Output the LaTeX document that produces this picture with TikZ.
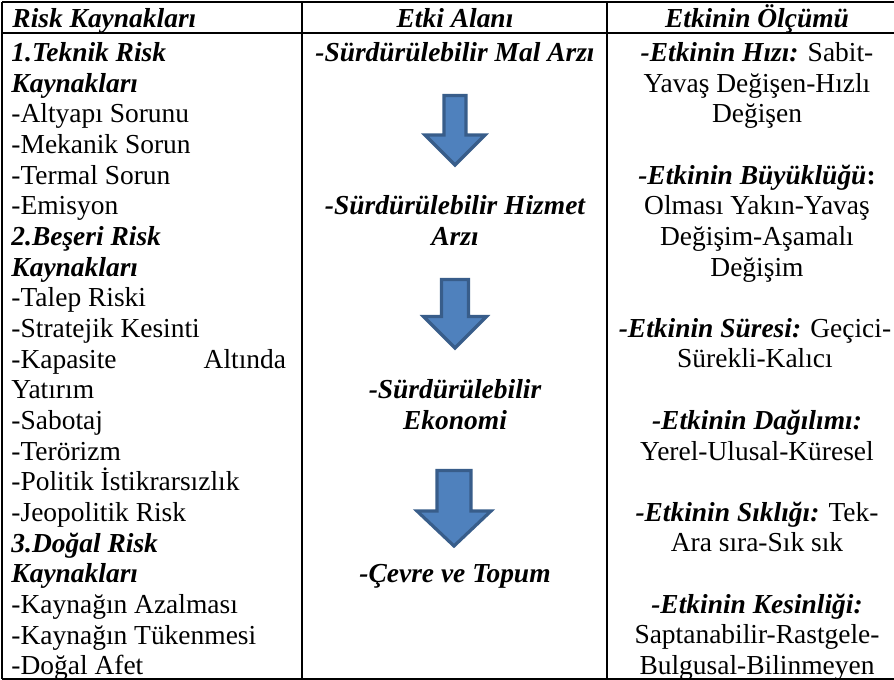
\documentclass[tikz,border=0pt]{standalone}
\usepackage{fontspec}
\setmainfont{Liberation Serif}
\usepackage{tikz}
\definecolor{arrowfill}{HTML}{4F81BD}
\definecolor{arrowline}{HTML}{385D8A}
\setlength{\parindent}{0pt}

\begin{document}
\begin{tikzpicture}[
    x=0.437pt, y=-0.437pt,
    every node/.style={inner sep=0pt, font=\fontsize{12}{13.4}\selectfont},
    head/.style={font=\fontsize{12}{13.4}\selectfont\bfseries\itshape, anchor=base},
    cell/.style={align=center, anchor=north},
    flow/.style={cell, font=\fontsize{12}{13.4}\selectfont\bfseries\itshape},
    grid/.style={line width=1.1pt},
    blockarrow/.style={fill=arrowfill, draw=arrowline, line width=1.4pt, line join=miter}
]
    \useasboundingbox (0,0) rectangle (894,680);

    % table frame
    \draw[grid] (2,2) -- (894,2);
    \draw[grid] (2,33) -- (894,33);
    \draw[grid] (2,679) -- (894,679);
    \draw[grid] (2,2) -- (2,679);
    \draw[grid] (302,2) -- (302,679);
    \draw[grid] (607,2) -- (607,679);

    % headers
    \node[head, anchor=base west] (riskhead) at (12,27) {Risk Kaynakları};
    \node[head] (etkihead) at (455,27) {Etki Alanı};
    \node[head] (olcumhead) at (757,27) {Etkinin Ölçümü};

    % risk sources
    \node[anchor=north west, text width=120pt, align=flush left] (sources) at (11,39.5) {%
        \strut{\bfseries\itshape 1.Teknik Risk}\\
        {\bfseries\itshape Kaynakları}\\
        -Altyapı Sorunu\\
        -Mekanik Sorun\\
        -Termal Sorun\\
        -Emisyon\\
        {\bfseries\itshape 2.Beşeri Risk}\\
        {\bfseries\itshape Kaynakları}\\
        -Talep Riski\\
        -Stratejik Kesinti\\
        -Kapasite\hfill Altında\\
        Yatırım\\
        -Sabotaj\\
        -Terörizm\\
        -Politik İstikrarsızlık\\
        -Jeopolitik Risk\\
        {\bfseries\itshape 3.Doğal Risk}\\
        {\bfseries\itshape Kaynakları}\\
        -Kaynağın Azalması\\
        -Kaynağın Tükenmesi\\
        -Doğal Afet};

    % impact area
    \node[flow] (mal) at (455,39.5) {\strut -Sürdürülebilir Mal Arzı};
    \node[flow] (hizmet) at (455,192.8) {\strut -Sürdürülebilir Hizmet\\Arzı};
    \node[flow] (ekonomi) at (455,376.8) {\strut -Sürdürülebilir\\Ekonomi};
    \node[flow] (cevre) at (455,560.7) {\strut -Çevre ve Topum};

    \draw[blockarrow] (444,95.5) -- (466,95.5) -- (466,135) -- (485,135) -- (455,165) -- (425,135) -- (444,135) -- cycle;
    \draw[blockarrow] (441.5,279.5) -- (468.5,279.5) -- (468.5,316.5) -- (486.5,316.5) -- (455,348) -- (423.5,316.5) -- (441.5,316.5) -- cycle;
    \draw[blockarrow] (437,470.5) -- (471,470.5) -- (471,511) -- (491,511) -- (454,546) -- (417,511) -- (437,511) -- cycle;

    % measures
    \node[cell] (hiz) at (757,39.5) {\strut{\bfseries\itshape -Etkinin Hızı:} Sabit-\\Yavaş Değişen-Hızlı\\Değişen};
    \node[cell] (buyukluk) at (757,162.1) {\strut{\bfseries\itshape -Etkinin Büyüklüğü}\textbf{:}\\Olması Yakın-Yavaş\\Değişim-Aşamalı\\Değişim};
    \node[cell] (sure) at (755,315.4) {\strut{\bfseries\itshape -Etkinin Süresi:} Geçici-\\Sürekli-Kalıcı};
    \node[cell] (dagilim) at (757,407.5) {\strut{\bfseries\itshape -Etkinin Dağılımı:}\\Yerel-Ulusal-Küresel};
    \node[cell] (siklik) at (757,499.4) {\strut{\bfseries\itshape -Etkinin Sıklığı:} Tek-\\Ara sıra-Sık sık};
    \node[cell] (kesinlik) at (757,591.4) {\strut{\bfseries\itshape -Etkinin Kesinliği:}\\Saptanabilir-Rastgele-\\Bulgusal-Bilinmeyen};
\end{tikzpicture}
\end{document}
